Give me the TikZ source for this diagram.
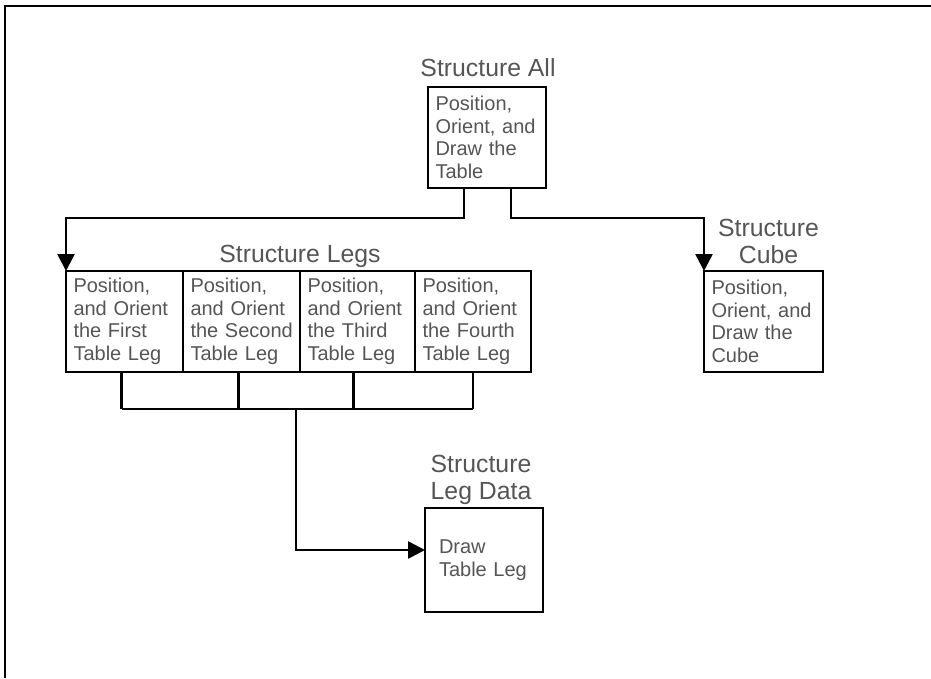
\documentclass[tikz,border=0pt]{standalone}
\usepackage{fontspec}
\setmainfont{Liberation Sans}
\usepackage{xcolor}
\usetikzlibrary{positioning,arrows.meta,calc}

\definecolor{txtgray}{HTML}{555555}
\newcommand\boxfont{\fontsize{20}{22.6}\selectfont}
\newcommand\lblfont{\fontsize{24.8}{27.5}\selectfont}
\hyphenpenalty=10000
\exhyphenpenalty=10000

\tikzset{
  box/.style={draw, line width=2.6pt, inner xsep=7.5pt, outer sep=0pt,
    text width=#1, minimum height=101pt, align=left, font=\boxfont, text=txtgray},
  lbl/.style={inner sep=0pt, align=center, font=\lblfont, text=txtgray},
  link/.style={line width=2.6pt},
  arr/.style={link, -{Triangle[width=17pt,length=17pt]}}
}

\begin{document}
\begin{tikzpicture}[x=1pt,y=-1pt]
\useasboundingbox (0,0) rectangle (931,678);
% frame
\draw[line width=2.6pt] (5,678) -- (5,6) -- (931,6);

% boxes
\node[box=103pt, anchor=north west] (all) at (428,87) {Position,\\Orient, and\\Draw the\\Table};
\node[box=102pt, anchor=north west] (leg1) at (66,271) {Position,\\and Orient\\the First\\Table Leg};
\node[box=102pt, right=0pt of leg1] (leg2) {Position,\\and Orient\\the~Second\\Table Leg};
\node[box=100pt, right=0pt of leg2] (leg3) {Position,\\and Orient\\the Third\\Table Leg};
\node[box=101pt, right=0pt of leg3] (leg4) {Position,\\and Orient\\the Fourth\\Table Leg};
\node[box=104pt, anchor=north west] (cube) at (704,271) {Position,\\Orient, and\\Draw the\\Cube};
\node[box=90pt, inner xsep=14pt, minimum height=104pt, anchor=north west] (data) at (425,508) {Draw\\Table Leg};

% labels
\node[lbl, above=10pt of all.north, xshift=1pt] (alllbl) {Structure All};
\node[lbl, above=3pt of leg2.north east] (legslbl) {Structure Legs};
\node[lbl, above=7pt of cube.north, xshift=5pt] (cubelbl) {Structure\\Cube};
\node[lbl, above=3pt of data.north, xshift=-3pt] (datalbl) {Structure\\Leg Data};

% connectors
\draw[arr] ([xshift=-23pt]all.south) -- ++(0,30) -| (leg1.north west);
\draw[arr] ([xshift=24pt]all.south) -- ++(0,30) -| (cube.north west);
\draw[link] ([xshift=-3pt]leg1.south) -- ++(0,37) coordinate (b1);
\draw[link] ([xshift=-3pt]leg2.south) -- ++(0,37) coordinate (b2);
\draw[link] ([xshift=-4pt]leg3.south) -- ++(0,37) coordinate (b3);
\draw[link] (leg4.south) -- ++(0,37) coordinate (b4);
\draw[link] (b1) -- (b4);
\coordinate (bm) at ($(b2)!0.5!(b3)$);
\draw[arr] (bm) |- ([yshift=10pt]data.west);
\end{tikzpicture}
\end{document}
